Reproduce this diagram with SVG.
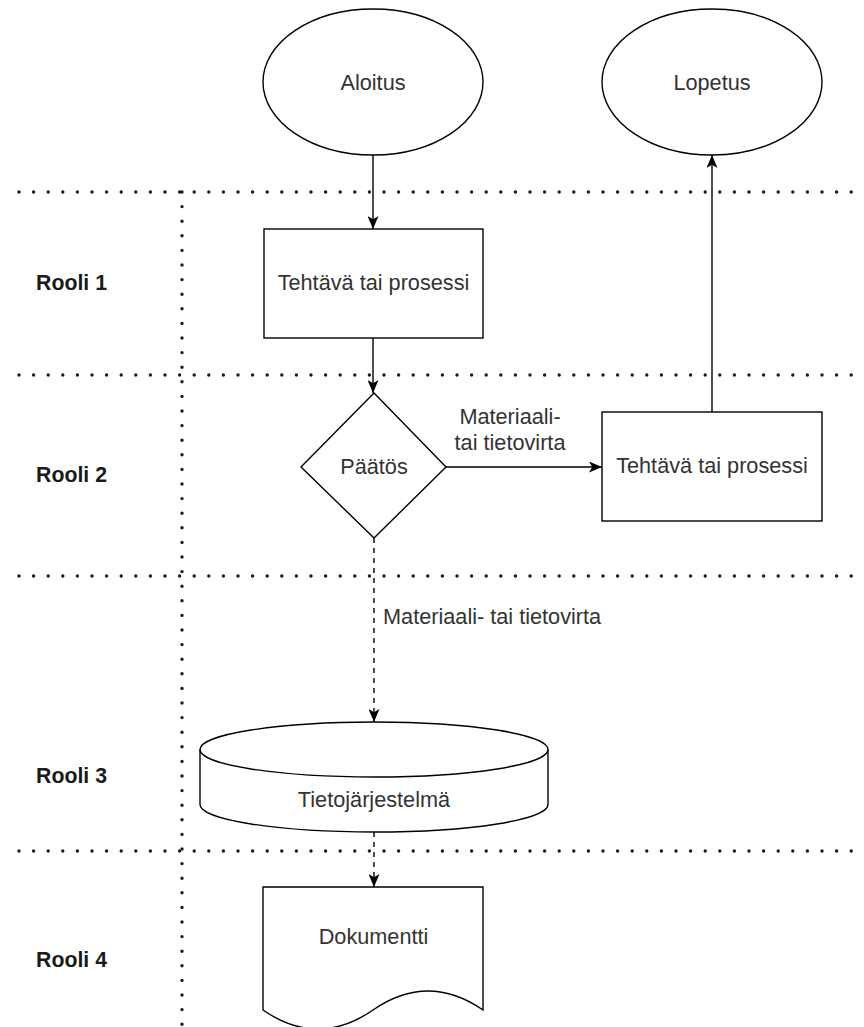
<svg xmlns="http://www.w3.org/2000/svg" width="864" height="1027" viewBox="0 0 864 1027">
  <style>
    .shape { fill: #ffffff; stroke: #000000; stroke-width: 1.4; }
    .edge { fill: none; stroke: #000000; stroke-width: 1.4; }
    .dashed { stroke-dasharray: 5 5; }
    .lane { fill: none; stroke: #1a1a1a; stroke-width: 3.4; stroke-linecap: round; stroke-dasharray: 0 14.6; }
    .label { font-family: "Liberation Sans", Arial, sans-serif; font-size: 21.7px; fill: #333333; }
    .role { font-family: "Liberation Sans", Arial, sans-serif; font-size: 21.3px; font-weight: bold; fill: #1a1a1a; }
  </style>
  <defs>
    <marker id="arrow" viewBox="0 0 13 11" refX="13" refY="5.5" markerWidth="13" markerHeight="11" markerUnits="userSpaceOnUse" orient="auto">
      <path d="M0,0 L13,5.5 L0,11 L3.2,5.5 Z" fill="#000000"/>
    </marker>
  </defs>

  <rect width="864" height="1027" fill="#ffffff"/>

  <!-- swimlane separators -->
  <g id="lanes">
    <line class="lane" x1="19" y1="192" x2="864" y2="192"/>
    <line class="lane" x1="19" y1="375" x2="864" y2="375"/>
    <line class="lane" x1="19" y1="576" x2="864" y2="576"/>
    <line class="lane" x1="19" y1="851" x2="864" y2="851"/>
    <line class="lane" x1="182" y1="192" x2="182" y2="1027"/>
  </g>

  <!-- role labels -->
  <g id="roles">
    <text class="role" x="36" y="290">Rooli 1</text>
    <text class="role" x="36" y="482">Rooli 2</text>
    <text class="role" x="36" y="783">Rooli 3</text>
    <text class="role" x="36" y="967">Rooli 4</text>
  </g>

  <!-- connectors -->
  <g id="connectors">
    <line class="edge" x1="373" y1="155" x2="373" y2="229" marker-end="url(#arrow)"/>
    <line class="edge" x1="373" y1="338" x2="373" y2="393" marker-end="url(#arrow)"/>
    <line class="edge" x1="446" y1="467" x2="602" y2="467" marker-end="url(#arrow)"/>
    <line class="edge" x1="712" y1="412" x2="712" y2="155" marker-end="url(#arrow)"/>
    <line class="edge dashed" x1="374" y1="538" x2="374" y2="722" marker-end="url(#arrow)"/>
    <line class="edge dashed" x1="374" y1="832" x2="374" y2="887" marker-end="url(#arrow)"/>
    <text class="label" x="510" y="424" text-anchor="middle">Materiaali-</text>
    <text class="label" x="510" y="450" text-anchor="middle">tai tietovirta</text>
    <text class="label" x="383" y="624">Materiaali- tai tietovirta</text>
  </g>

  <g id="start">
    <ellipse class="shape" cx="373" cy="82" rx="110" ry="73"/>
    <text class="label" x="373" y="89.5" text-anchor="middle">Aloitus</text>
  </g>

  <g id="end">
    <ellipse class="shape" cx="712" cy="82" rx="110" ry="73"/>
    <text class="label" x="712" y="89.5" text-anchor="middle">Lopetus</text>
  </g>

  <g id="task1">
    <rect class="shape" x="264" y="229" width="219" height="109"/>
    <text class="label" x="373.5" y="290" text-anchor="middle">Tehtävä tai prosessi</text>
  </g>

  <g id="decision">
    <path class="shape" d="M374,393 L446,467 L374,538 L301,467 Z"/>
    <text class="label" x="374" y="474" text-anchor="middle">Päätös</text>
  </g>

  <g id="task2">
    <rect class="shape" x="602" y="412" width="220" height="109"/>
    <text class="label" x="712" y="472.5" text-anchor="middle">Tehtävä tai prosessi</text>
  </g>

  <g id="system">
    <path class="shape" d="M200,749.5 A174,27.5 0 0 1 548,749.5 L548,804.5 A174,27.5 0 0 1 200,804.5 Z"/>
    <path class="edge" d="M200,749.5 A174,27.5 0 0 0 548,749.5"/>
    <text class="label" x="374" y="807" text-anchor="middle">Tietojärjestelmä</text>
  </g>

  <g id="document">
    <path class="shape" d="M263,887 L483,887 L483,1010 Q428,972 373,1010 Q318,1048 263,1010 Z"/>
    <text class="label" x="373.5" y="944" text-anchor="middle">Dokumentti</text>
  </g>
</svg>
